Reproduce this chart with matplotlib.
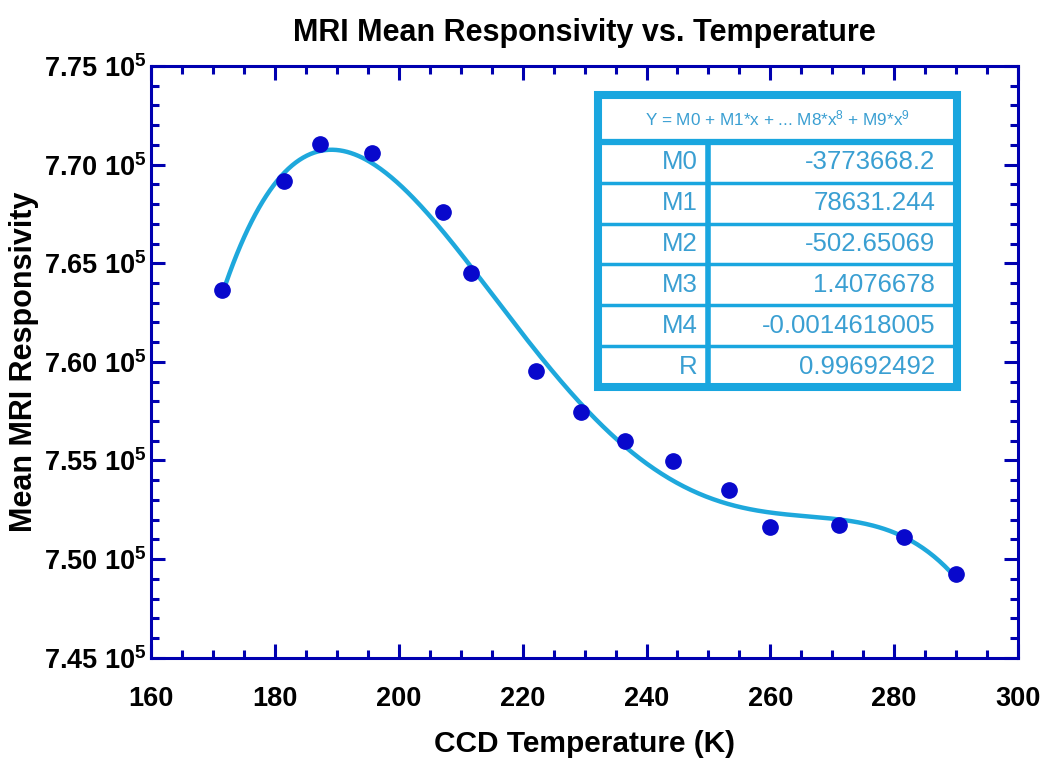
import numpy as np
import matplotlib
matplotlib.use('Agg')
from matplotlib import pyplot as plt
from matplotlib.patches import Rectangle
from matplotlib.lines import Line2D

# measured points (K, responsivity in units of 1e5)
temperature = [171.45, 181.47, 187.29, 195.64, 207.11, 211.58, 222.13, 229.35,
               236.56, 244.22, 253.36, 259.93, 271.03, 281.53, 289.98]
responsivity = [7.6364, 7.6917, 7.7102, 7.7060, 7.6758, 7.6449, 7.5955, 7.5746,
                7.5598, 7.5498, 7.5352, 7.5162, 7.5171, 7.5113, 7.4926]

# fit coefficients as printed in the box
coef_names = ['M0', 'M1', 'M2', 'M3', 'M4', 'R']
coef_text = ['-3773668.2', '78631.244', '-502.65069', '1.4076678', '-0.0014618005', '0.99692492']
coefs = [-3773668.2, 78631.244, -502.65069, 1.4076678, -0.0014618005]

x_ticks = [160, 180, 200, 220, 240, 260, 280, 300]
y_ticks = [7.45, 7.50, 7.55, 7.60, 7.65, 7.70, 7.75]

frame_col = '#0000b0'
curve_col = '#1ea8dc'
dot_col = '#0808cc'
box_col = '#19a6df'
box_txt = '#3a9fd2'

plt.rcParams['font.family'] = ['Liberation Sans', 'DejaVu Sans']
plt.rcParams['mathtext.default'] = 'regular'

fig = plt.figure(figsize=(10.44, 7.61), dpi=100)
ax = fig.add_axes([0.145, 0.1357, 0.830, 0.7776])

xf = np.linspace(min(temperature), max(temperature), 400)
yf = np.polyval(coefs[::-1], xf) / 1e5
ax.plot(xf, yf, color=curve_col, lw=3.2, zorder=2)
ax.plot(temperature, responsivity, 'o', color=dot_col, ms=11, zorder=3)

ax.set_xlim(160, 300)
ax.set_ylim(7.45, 7.75)
ax.set_xticks(x_ticks)
ax.set_xticklabels([str(v) for v in x_ticks], fontsize=19.5, fontweight='bold')
ax.set_yticks(y_ticks)
ax.set_yticklabels(['%.2f $10^{5}$' % v for v in y_ticks], fontsize=19.5, fontweight='bold')
ax.set_xticks(np.arange(160, 301, 5), minor=True)
ax.set_yticks(np.arange(7.45, 7.7501, 0.01), minor=True)
ax.tick_params(which='both', direction='in', top=True, right=True, color=frame_col, width=2.2)
ax.tick_params(which='major', length=10)
ax.tick_params(which='minor', length=5.5)
ax.tick_params(axis='x', which='major', pad=20)
ax.tick_params(axis='y', which='major', pad=3)
for s in ax.spines.values():
    s.set_color(frame_col)
    s.set_linewidth(2.2)

ax.set_title('MRI Mean Responsivity vs. Temperature', fontsize=22, fontweight='bold', pad=18)
ax.set_xlabel('CCD Temperature (K)', fontsize=21.5, fontweight='bold', labelpad=13)
ax.set_ylabel('Mean MRI Responsivity', fontsize=22, fontweight='bold', labelpad=4)

# fit box
L, R, T, B = 0.5153, 0.9296, 0.951, 0.4575
hdr = 0.8716
div = 0.6423
tr = ax.transAxes
ax.add_patch(Rectangle((L, B), R - L, T - B, transform=tr, fill=True, fc='white',
                       ec=box_col, lw=5.8, zorder=5))
rows = len(coef_names)
rh = (hdr - B) / rows
ax.add_line(Line2D([L, R], [hdr, hdr], transform=tr, color=box_col, lw=4.5, zorder=6))
for i in range(1, rows):
    yy = hdr - i * rh
    ax.add_line(Line2D([L, R], [yy, yy], transform=tr, color=box_col, lw=2.5, zorder=6))
ax.add_line(Line2D([div, div], [B, hdr], transform=tr, color=box_col, lw=4.0, zorder=6))
ax.text((L + R) / 2, (T + hdr) / 2, r'Y = M0 + M1*x + ... M8*x$^{8}$ + M9*x$^{9}$',
        transform=tr, ha='center', va='center', fontsize=12.3, color=box_txt, zorder=7)
for i in range(rows):
    yc = hdr - (i + 0.5) * rh
    ax.text(div - 0.012, yc, coef_names[i], transform=tr, ha='right', va='center',
            fontsize=18.5, color=box_txt, zorder=7)
    ax.text(R - 0.025, yc, coef_text[i], transform=tr, ha='right', va='center',
            fontsize=18.5, color=box_txt, zorder=7)

plt.savefig('out.png', dpi=100)
